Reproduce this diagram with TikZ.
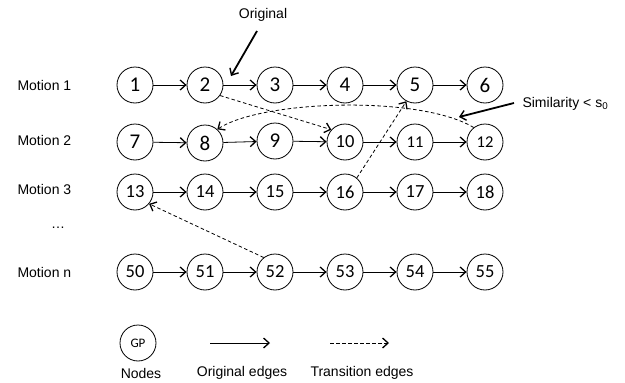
\documentclass[tikz,border=0pt]{standalone}
\usepackage{fontspec}
\setmainfont{Liberation Sans}
\newfontfamily\numfont{Carlito}
\usetikzlibrary{arrows.meta}
\tikzset{
  gp/.style={circle,draw,line width=0.8pt,minimum size=36pt,inner sep=0pt,font=\numfont\fontsize{17}{17}\selectfont},
  big/.style={font=\numfont\fontsize{21}{21}\selectfont},
  mid/.style={font=\numfont\fontsize{18.5}{18.5}\selectfont},
  small/.style={font=\numfont\fontsize{16.5}{16.5}\selectfont},
  tip/.style={-{Straight Barb[length=5.5pt,width=10pt,line width=1.3pt]}},
  orig/.style={tip,line width=0.8pt},
  trans/.style={tip,line width=0.8pt,dash pattern=on 3.5pt off 2.5pt},
  callout/.style={-{Straight Barb[length=5.5pt,width=10pt,line width=1.4pt]},line width=1.8pt},
  lbl/.style={font=\fontsize{14}{14}\selectfont},
}
\begin{document}
\begin{tikzpicture}[x=1pt,y=-1pt]
\useasboundingbox (0,0) rectangle (625,383);
% row labels
\node[lbl,anchor=west] (m1) at (14,85) {Motion 1};
\node[lbl,anchor=west] (m2) at (14,140) {Motion 2};
\node[lbl,anchor=west] (m3) at (14,189) {Motion 3};
\node[lbl] (dots) at (58,228) {\dots};
\node[lbl,anchor=west] (mn) at (14,272) {Motion n};
% row 1
\node[gp,big] (n1) at (135,85) {1};
\node[gp,big] (n2) at (205,85) {2};
\node[gp,big] (n3) at (275,85) {3};
\node[gp,big] (n4) at (345,85) {4};
\node[gp,big] (n5) at (415,85) {5};
\node[gp,big] (n6) at (485,85) {6};
% row 2
\node[gp,big] (n7) at (135,142) {7};
\node[gp,big] (n8) at (205,143) {8};
\node[gp,big] (n9) at (275,141) {9};
\node[gp,mid] (n10) at (345,142) {10};
\node[gp,small] (n11) at (415,142) {11};
\node[gp,small] (n12) at (485,142) {12};
% row 3
\node[gp,mid] (n13) at (135,192) {13};
\node[gp,mid] (n14) at (205,192) {14};
\node[gp,mid] (n15) at (275,192) {15};
\node[gp,mid] (n16) at (345,192) {16};
\node[gp,mid] (n17) at (415,192) {17};
\node[gp,mid] (n18) at (485,192) {18};
% row n
\node[gp,mid] (n50) at (135,272) {50};
\node[gp,mid] (n51) at (205,272) {51};
\node[gp,mid] (n52) at (275,272) {52};
\node[gp,mid] (n53) at (345,272) {53};
\node[gp,mid] (n54) at (415,272) {54};
\node[gp,mid] (n55) at (485,272) {55};
% original edges
\foreach \a/\b in {1/2,2/3,3/4,4/5,5/6,7/8,8/9,9/10,10/11,11/12,13/14,14/15,15/16,16/17,17/18,50/51,51/52,52/53,53/54,54/55}
  \draw[orig] (n\a) -- (n\b);
% transition edges
\draw[trans] (n2.-35) -- (n10.138);
\draw[trans] (n12.128) .. controls (420,95) and (262,100) .. (n8.48);
\draw[trans] (n16.50) -- (n5.-118);
\draw[trans] (n52.128) -- (n13.-40);
% callouts
\node[lbl] (orig) at (263,15) {Original};
\coordinate (origtip) at (231,76);
\draw[callout] (257,31) -- (origtip);
\node[lbl,anchor=west] (sim) at (519,104) {Similarity < s\textsubscript{0}};
\coordinate (simtip) at (459,117);
\draw[callout] (sim.west) ++(-5,-1) -- (simtip);
% legend
\node[gp,font=\numfont\fontsize{13}{13}\selectfont] (leg) at (138,343) {GP};
\node[lbl] (lnodes) at (141,373) {Nodes};
\coordinate (la1) at (210,343);
\coordinate (la2) at (270,343);
\draw[orig] (la1) -- (la2);
\node[lbl] (lorig) at (242,373) {Original edges};
\coordinate (lb1) at (330,343);
\coordinate (lb2) at (389,343);
\draw[trans] (lb1) -- (lb2);
\node[lbl] (ltrans) at (362,373) {Transition edges};
\end{tikzpicture}
\end{document}
